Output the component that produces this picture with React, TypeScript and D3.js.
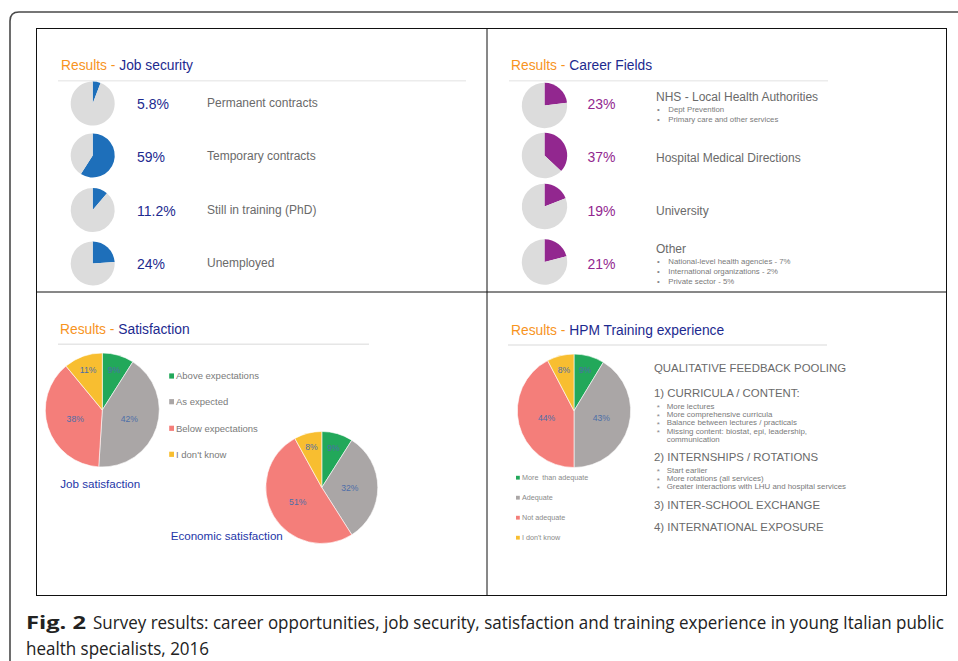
import React from "react";
import * as d3 from "d3";

// ---------- DATA ----------
const jobSecurityLabels = ["Permanent contracts", "Temporary contracts", "Still in training (PhD)", "Unemployed"];
const jobSecurityValues = [5.8, 59, 11.2, 24];
const jobSecurityPct = ["5.8%", "59%", "11.2%", "24%"];

const careerLabels = ["NHS - Local Health Authorities", "Hospital Medical Directions", "University", "Other"];
const careerValues = [23, 37, 19, 21];
const careerPct = ["23%", "37%", "19%", "21%"];
const careerSub = [
  ["Dept Prevention", "Primary care and other services"],
  [],
  [],
  ["National-level health agencies - 7%", "International organizations - 2%", "Private sector - 5%"],
];

const satisfactionCategories = ["Above expectations", "As expected", "Below expectations", "I don't know"];
const jobSatisfactionValues = [9, 42, 38, 11];
const economicSatisfactionValues = [9, 32, 51, 8];

const hpmCategories = ["More  than adequate", "Adequate", "Not adequate", "I don't know"];
const hpmValues = [9, 43, 44, 8];

const feedbackTitle = "QUALITATIVE FEEDBACK POOLING";
const feedbackSections = [
  { head: "1) CURRICULA / CONTENT:", items: ["More lectures", "More comprehensive curricula", "Balance between lectures / practicals", "Missing content: biostat, epi, leadership,", "communication"] },
  { head: "2) INTERNSHIPS / ROTATIONS", items: ["Start earlier", "More rotations (all services)", "Greater interactions with LHU and hospital services"] },
  { head: "3) INTER-SCHOOL EXCHANGE", items: [] },
  { head: "4) INTERNATIONAL EXPOSURE", items: [] },
];

const captionBold = "Fig. 2";
const captionLine1 = "Survey results: career opportunities, job security, satisfaction and training experience in young Italian public";
const captionLine2 = "health specialists, 2016";

// ---------- STYLE ----------
const FONT = "'Liberation Sans', Arial, Helvetica, sans-serif";
const CAPFONT = "'Open Sans', 'Noto Sans', sans-serif";
const ORANGE = "#f7941e";
const NAVY = "#1d2a8f";
const GRAYTXT = "#6a6a6a";
const BLUE = "#1e6fba";
const PURPLE = "#92278f";
const PIEGRAY = "#dcdcdc";
const SAT_COLORS = ["#22a85a", "#aaa6a6", "#f47e7a", "#f8be30"];
const SLICE_LABEL = "#4d6ea8";

const pieGen = d3.pie<number>().sort(null).value((d) => d);

let measureCtx: CanvasRenderingContext2D | null = null;
function measure(text: string, font: string): number {
  if (!measureCtx && typeof document !== "undefined") {
    measureCtx = document.createElement("canvas").getContext("2d");
  }
  if (!measureCtx) return text.length * 8;
  measureCtx.font = font;
  return measureCtx.measureText(text).width;
}

// Caption text fitted word-by-word into a given width
function FitText({ x, y, width, text, size, weight }: { x: number; y: number; width: number; text: string; size: number; weight?: string }) {
  const cssFont = `${weight || "normal"} ${size}px ${CAPFONT}`;
  const words = text.split(" ");
  const space = measure(" ", cssFont);
  const widths = words.map((w) => measure(w, cssFont));
  const natural = d3.sum(widths) + space * (words.length - 1);
  const k = width / natural;
  let cx = x;
  return (
    <g>
      {words.map((w, i) => {
        const wx = cx;
        const ww = widths[i] * k;
        cx += ww + space * k;
        return (
          <text key={i} x={wx} y={y} fontFamily={CAPFONT} fontSize={size} fontWeight={weight || "normal"} fill="#222" textLength={ww} lengthAdjust="spacingAndGlyphs">
            {w}
          </text>
        );
      })}
    </g>
  );
}

function Title({ x, y, text }: { x: number; y: number; text: string }) {
  return (
    <text x={x} y={y} dy="0.35em" fontFamily={FONT} fontSize={13.8}>
      <tspan fill={ORANGE}>Results - </tspan>
      <tspan fill={NAVY}>{text}</tspan>
    </text>
  );
}

function SmallPie({ cx, cy, r, value, color }: { cx: number; cy: number; r: number; value: number; color: string }) {
  const arcs = pieGen([value, 100 - value]);
  const arc = d3.arc<d3.PieArcDatum<number>>().innerRadius(0).outerRadius(r);
  return (
    <g transform={`translate(${cx},${cy})`}>
      {arcs.map((a, i) => (
        <path key={i} d={arc(a) || ""} fill={i === 0 ? color : PIEGRAY} />
      ))}
    </g>
  );
}

function BigPie({ cx, cy, r, values }: { cx: number; cy: number; r: number; values: number[] }) {
  const arcs = pieGen(values);
  const arc = d3.arc<d3.PieArcDatum<number>>().innerRadius(0).outerRadius(r);
  return (
    <g transform={`translate(${cx},${cy})`}>
      {arcs.map((a, i) => (
        <path key={i} d={arc(a) || ""} fill={SAT_COLORS[i]} stroke="#fff" strokeWidth={0.6} />
      ))}
      {arcs.map((a, i) => {
        const lr = a.data < 15 ? r * 0.74 : r * 0.5;
        const la = d3.arc<d3.PieArcDatum<number>>().innerRadius(lr).outerRadius(lr);
        const [lx, ly] = la.centroid(a);
        return (
          <text key={"t" + i} x={lx} y={ly} dy="0.35em" textAnchor="middle" fontFamily={FONT} fontSize={8.6} fill={SLICE_LABEL}>
            {a.data + "%"}
          </text>
        );
      })}
    </g>
  );
}

export default function App() {
  const JS_ROWS = [103.5, 155.5, 210, 263.5];
  const CF_ROWS = [105.5, 155.5, 206.5, 262];
  const PCT_ROWS = [104, 156.7, 211, 264];
  const CF_LABEL_ROWS = [96.7, 157.3, 210.7, 248.3];

  let fy = 392.7;
  const feedbackLines: { text: string; y: number; head: boolean }[] = [];
  feedbackSections.forEach((s, si) => {
    feedbackLines.push({ text: s.head, y: fy, head: true });
    let by = fy + 13.2;
    s.items.forEach((it) => {
      feedbackLines.push({ text: it, y: by, head: false });
      by += 8.3;
    });
    const gaps = [64, 48.3, 22.3];
    if (si < gaps.length) fy += gaps[si];
  });

  return (
    <svg width={958} height={661} style={{ position: "absolute", left: 0, top: 0, background: "#fff" }}>
      <rect width={958} height={661} fill="#fff" />
      {/* outer rounded frame */}
      <path d="M10,661 L10,21 Q10,12 19,12 L958,12" fill="none" stroke="#4a4a4a" strokeWidth={1.6} />
      {/* inner grid */}
      <rect x={36.5} y={28.5} width={910} height={567} fill="none" stroke="#111" strokeWidth={1} />
      <line x1={487} y1={28.5} x2={487} y2={595.5} stroke="#111" strokeWidth={1} />
      <line x1={36.5} y1={292} x2={946.5} y2={292} stroke="#111" strokeWidth={1} />

      {/* ---- Job security ---- */}
      <Title x={61} y={65} text="Job security" />
      <line x1={58} y1={80.7} x2={466} y2={80.7} stroke="#ececec" strokeWidth={1.5} />
      {jobSecurityValues.map((v, i) => (
        <g key={"js" + i}>
          <SmallPie cx={92.7} cy={JS_ROWS[i]} r={22} value={v} color={BLUE} />
          <text x={137} y={PCT_ROWS[i]} dy="0.35em" fontFamily={FONT} fontSize={14} fill={NAVY}>{jobSecurityPct[i]}</text>
          <text x={207} y={PCT_ROWS[i] - 1} dy="0.35em" fontFamily={FONT} fontSize={12} fill={GRAYTXT}>{jobSecurityLabels[i]}</text>
        </g>
      ))}

      {/* ---- Career fields ---- */}
      <Title x={511} y={65} text="Career Fields" />
      <line x1={509} y1={80.7} x2={828} y2={80.7} stroke="#ececec" strokeWidth={1.5} />
      {careerValues.map((v, i) => (
        <g key={"cf" + i}>
          <SmallPie cx={544.5} cy={CF_ROWS[i]} r={22.7} value={v} color={PURPLE} />
          <text x={587.5} y={PCT_ROWS[i]} dy="0.35em" fontFamily={FONT} fontSize={14} fill={PURPLE}>{careerPct[i]}</text>
          <text x={656} y={CF_LABEL_ROWS[i]} dy="0.35em" fontFamily={FONT} fontSize={12} fill={GRAYTXT}>{careerLabels[i]}</text>
          {careerSub[i].map((s, j) => (
            <g key={j}>
              <text x={657} y={CF_LABEL_ROWS[i] + 12.6 + j * 10} dy="0.35em" fontFamily={FONT} fontSize={7.8} fill="#888">•</text>
              <text x={668.3} y={CF_LABEL_ROWS[i] + 12.6 + j * 10} dy="0.35em" fontFamily={FONT} fontSize={7.8} fill="#7a7a7a">{s}</text>
            </g>
          ))}
        </g>
      ))}

      {/* ---- Satisfaction ---- */}
      <Title x={60} y={329} text="Satisfaction" />
      <line x1={58} y1={344.3} x2={369} y2={344.3} stroke="#e6e6e6" strokeWidth={1.5} />
      <BigPie cx={102.3} cy={410} r={57} values={jobSatisfactionValues} />
      {satisfactionCategories.map((c, i) => {
        const y = [376, 401.7, 428.3, 454.3][i];
        return (
          <g key={"sl" + i}>
            <rect x={169.2} y={y - 2.6} width={4.8} height={5.2} fill={SAT_COLORS[i]} />
            <text x={176} y={y} dy="0.35em" fontFamily={FONT} fontSize={9.5} fill="#7a7a7a">{c}</text>
          </g>
        );
      })}
      <text x={60.3} y={484} dy="0.35em" fontFamily={FONT} fontSize={11.6} fill="#2436a8">Job satisfaction</text>
      <BigPie cx={321.8} cy={487.5} r={56} values={economicSatisfactionValues} />
      <text x={170.7} y={536} dy="0.35em" fontFamily={FONT} fontSize={11.6} fill="#2436a8">Economic satisfaction</text>

      {/* ---- HPM Training ---- */}
      <Title x={511} y={330} text="HPM Training experience" />
      <line x1={508} y1={345} x2={827} y2={345} stroke="#e6e6e6" strokeWidth={1.5} />
      <BigPie cx={574} cy={410.8} r={56.7} values={hpmValues} />
      {hpmCategories.map((c, i) => {
        const y = 477.7 + i * 20;
        return (
          <g key={"hl" + i}>
            <rect x={516} y={y - 1.9} width={3.8} height={3.8} fill={SAT_COLORS[i]} />
            <text x={522} y={y} dy="0.35em" fontFamily={FONT} fontSize={7.2} fill="#8a8a8a" style={{ whiteSpace: "pre" }}>{c}</text>
          </g>
        );
      })}
      <text x={654} y={367.7} dy="0.35em" fontFamily={FONT} fontSize={11.4} fill={GRAYTXT}>{feedbackTitle}</text>
      {feedbackLines.map((l, i) =>
        l.head ? (
          <text key={"fl" + i} x={654} y={l.y} dy="0.35em" fontFamily={FONT} fontSize={11.4} fill={GRAYTXT}>{l.text}</text>
        ) : (
          <g key={"fl" + i}>
            {l.text !== "communication" && (
              <text x={656.7} y={l.y + 1.5} dy="0.35em" fontFamily={FONT} fontSize={8} fill="#888">*</text>
            )}
            <text x={666.7} y={l.y} dy="0.35em" fontFamily={FONT} fontSize={7.9} fill="#7a7a7a">{l.text}</text>
          </g>
        )
      )}

      {/* ---- Caption ---- */}
      <FitText x={26} y={629} width={60} text={captionBold} size={18} weight="bold" />
      <FitText x={93} y={629} width={851} text={captionLine1} size={18} />
      <FitText x={26} y={655} width={183} text={captionLine2} size={18} />
    </svg>
  );
}
